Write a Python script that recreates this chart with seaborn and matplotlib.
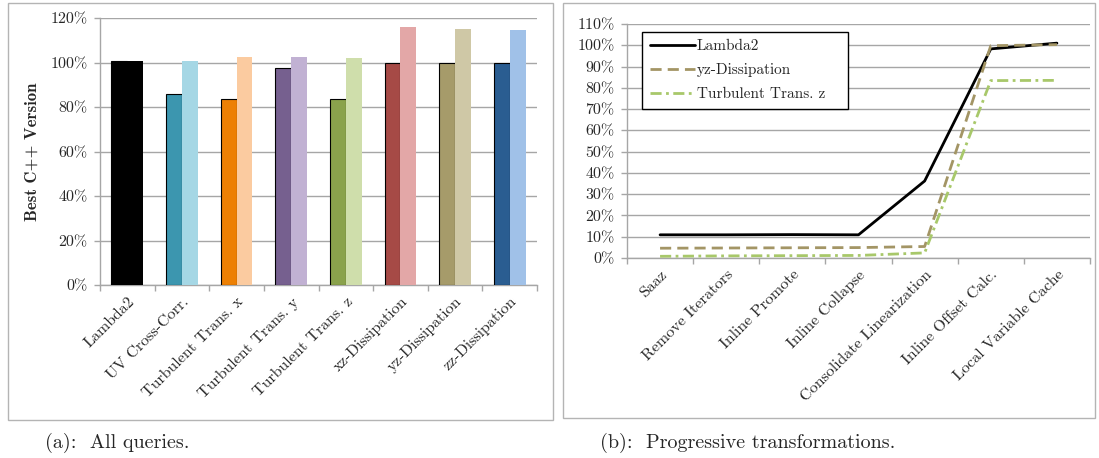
import numpy as np
import pandas as pd
import seaborn as sns
import matplotlib
matplotlib.use("Agg")
import matplotlib.pyplot as plt
from matplotlib.patches import Rectangle
from matplotlib.ticker import FixedLocator

# ---- data: (a) all queries ----
queries = ["Lambda2", "UV Cross-Corr.", "Turbulent Trans. x", "Turbulent Trans. y",
           "Turbulent Trans. z", "xz-Dissipation", "yz-Dissipation", "zz-Dissipation"]
dark_vals = [100.8, 86.0, 83.4, 97.6, 83.4, 99.9, 99.8, 99.8]
light_vals = [100.8, 100.8, 102.6, 102.6, 102.1, 116.1, 115.2, 114.6]
dark_colors = ["#000000", "#3c96af", "#ed8004", "#76608f", "#8aa24c", "#a64a46", "#a69b6a", "#2a5d91"]
light_colors = ["#000000", "#a5d7e5", "#fbcba0", "#c1b1d3", "#cfdeab", "#e3a7a7", "#cfc8a6", "#a0c1e8"]

# ---- data: (b) progressive transformations ----
steps = ["Saaz", "Remove Iterators", "Inline Promote", "Inline Collapse",
         "Consolidate Linearization", "Inline Offset Calc.", "Local Variable Cache"]
lambda2 = [10.9, 10.9, 11.0, 10.9, 36.2, 98.3, 101.0]
yz_diss = [4.6, 4.7, 4.8, 4.9, 5.4, 99.8, 100.3]
ttz = [0.8, 1.0, 1.1, 1.2, 2.4, 83.4, 83.5]
series_names = ["Lambda2", "yz-Dissipation", "Turbulent Trans. z"]
series_colors = {"Lambda2": "#000000", "yz-Dissipation": "#a39565", "Turbulent Trans. z": "#a8c86a"}
series_dashes = {"Lambda2": "", "yz-Dissipation": (4, 2.2), "Turbulent Trans. z": (4, 1.6, 1, 1.6)}

sns.set_theme(style="white")
plt.rcParams["font.family"] = ["cmr10", "DejaVu Serif"]
plt.rcParams["axes.unicode_minus"] = False
plt.rcParams["mathtext.fontset"] = "cm"

fig = plt.figure(figsize=(10.99, 4.58), dpi=100)
W, H = 1099, 458

def fig_rect(x0, y0, x1, y1):
    return [x0 / W, 1 - y1 / H, (x1 - x0) / W, (y1 - y0) / H]

grid_c = "#a6a6a6"
tick_fs = 11.5
xlab_fs = 11.5

# panel frames
for (x0, y0, x1, y1) in [(8, 3, 553, 420), (563, 3, 1095, 418)]:
    fig.patches.append(Rectangle((x0 / W, 1 - y1 / H), (x1 - x0) / W, (y1 - y0) / H,
                                 transform=fig.transFigure, fill=False,
                                 edgecolor="#b4b4b4", linewidth=1.0))

# ---------- (a) ----------
ax1 = fig.add_axes(fig_rect(100, 18, 537, 285))
df_a = pd.DataFrame({
    "query": queries * 2,
    "value": dark_vals + light_vals,
    "variant": ["dark"] * len(queries) + ["light"] * len(queries),
})
sns.barplot(data=df_a, x="query", y="value", hue="variant", order=queries,
            width=0.58, gap=0, legend=False, ax=ax1, zorder=3)
for i, p in enumerate(ax1.containers[0]):
    p.set_facecolor(dark_colors[i])
    p.set_edgecolor("black")
    p.set_linewidth(0.8)
for i, p in enumerate(ax1.containers[1]):
    p.set_facecolor(light_colors[i])
    p.set_edgecolor("none")

ax1.set_ylim(0, 120)
ax1.set_xlim(-0.5, len(queries) - 0.5)
yt = np.arange(0, 121, 20)
ax1.set_yticks(yt)
ax1.set_yticklabels([f"{v}%" for v in yt], fontsize=tick_fs)
ax1.yaxis.grid(True, color=grid_c, linewidth=1.0, zorder=0)
ax1.set_axisbelow(True)
ax1.set_xticks(range(len(queries)))
ax1.set_xticklabels(queries, rotation=45, ha="right", rotation_mode="anchor", fontsize=xlab_fs)
ax1.xaxis.set_minor_locator(FixedLocator(np.arange(-0.5, len(queries), 1)))
ax1.tick_params(axis="x", which="major", length=0, pad=7)
ax1.tick_params(axis="x", which="minor", length=4, color=grid_c, width=1, direction="out", bottom=True)
ax1.tick_params(axis="y", length=4, color=grid_c, width=1, direction="out", left=True, pad=5)
ax1.set_xlabel("")
ax1.set_ylabel("Best C++ Version", family=["cmb10", "DejaVu Serif"], fontsize=12, labelpad=8)
for s in ["top", "right"]:
    ax1.spines[s].set_visible(False)
for s in ["left", "bottom"]:
    ax1.spines[s].set_color(grid_c)
    ax1.spines[s].set_linewidth(1.0)

# ---------- (b) ----------
ax2 = fig.add_axes(fig_rect(627, 24, 1090, 258))
df_b = pd.DataFrame({
    "step": steps * 3,
    "value": lambda2 + yz_diss + ttz,
    "series": [n for n in series_names for _ in steps],
})
sns.lineplot(data=df_b, x="step", y="value", hue="series", style="series",
             hue_order=series_names, style_order=series_names,
             palette=series_colors, dashes=series_dashes, linewidth=2,
             sort=False, ax=ax2, zorder=3)
ax2.set_ylim(0, 110)
ax2.set_xlim(-0.5, len(steps) - 0.5)
yt2 = np.arange(0, 111, 10)
ax2.set_yticks(yt2)
ax2.set_yticklabels([f"{v}%" for v in yt2], fontsize=tick_fs)
ax2.yaxis.grid(True, color=grid_c, linewidth=1.0, zorder=0)
ax2.set_axisbelow(True)
ax2.set_xticks(range(len(steps)))
ax2.set_xticklabels(steps, rotation=45, ha="right", rotation_mode="anchor", fontsize=xlab_fs)
ax2.xaxis.set_minor_locator(FixedLocator(np.arange(-0.5, len(steps), 1)))
ax2.tick_params(axis="x", which="major", length=0, pad=7)
ax2.tick_params(axis="x", which="minor", length=4, color=grid_c, width=1, direction="out", bottom=True)
ax2.tick_params(axis="y", length=4, color=grid_c, width=1, direction="out", left=True, pad=5)
ax2.set_xlabel("")
ax2.set_ylabel("")
for s in ["top", "right"]:
    ax2.spines[s].set_visible(False)
for s in ["left", "bottom"]:
    ax2.spines[s].set_color(grid_c)
    ax2.spines[s].set_linewidth(1.0)

handles, labels = ax2.get_legend_handles_labels()
leg = ax2.legend(handles, labels, loc="upper left",
                 bbox_to_anchor=(0.0324, 0.5, 0.445, 0.466), mode="expand",
                 frameon=True, fancybox=False, edgecolor="black", framealpha=1,
                 fontsize=11, handlelength=2.95, handletextpad=0.15, borderpad=0.5,
                 labelspacing=0.65, borderaxespad=0)
leg.get_frame().set_linewidth(1.0)

# captions
fig.text(45 / W, 1 - 443 / H, "(a):  All queries.", fontsize=14.5, va="center", ha="left")
fig.text(600 / W, 1 - 443 / H, "(b):  Progressive transformations.", fontsize=14.5, va="center", ha="left")

fig.savefig("out.png", dpi=100)
